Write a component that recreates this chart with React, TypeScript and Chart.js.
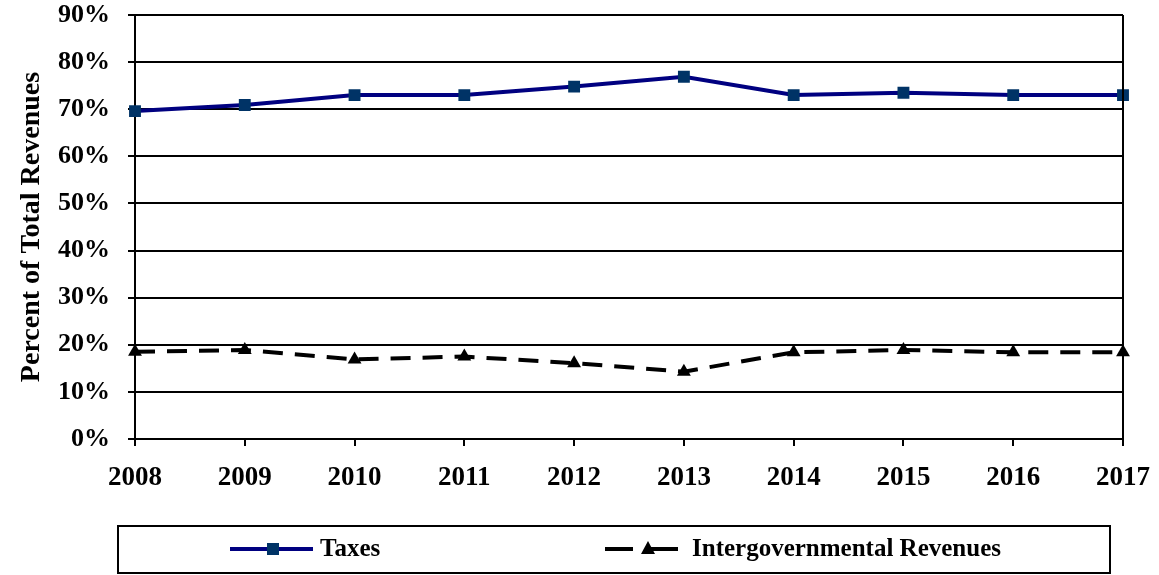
import React, { useEffect, useRef } from "react";
import { Chart, registerables } from "chart.js";

Chart.register(...registerables);

const years = ["2008", "2009", "2010", "2011", "2012", "2013", "2014", "2015", "2016", "2017"];
const taxes = [69.6, 70.9, 73.0, 73.0, 74.8, 76.9, 73.0, 73.5, 73.0, 73.0];
const intergov = [18.5, 18.9, 16.9, 17.5, 16.1, 14.3, 18.4, 18.9, 18.4, 18.4];
const seriesNames = ["Taxes", "Intergovernmental Revenues"];
const yTickValues = [0, 10, 20, 30, 40, 50, 60, 70, 80, 90];
const yTitle = "Percent of Total Revenues";

const FONT = "'Liberation Serif', 'Times New Roman', serif";

const framePlugin = {
  id: "framePlugin",
  afterDraw(chart: any) {
    const { ctx, chartArea } = chart;
    ctx.save();
    // right border
    ctx.strokeStyle = "#000";
    ctx.lineWidth = 2;
    ctx.beginPath();
    ctx.moveTo(chartArea.right, chartArea.top);
    ctx.lineTo(chartArea.right, chartArea.bottom);
    ctx.stroke();

    // legend box
    ctx.lineWidth = 2;
    ctx.strokeRect(118, 526, 992, 47);
    const ly = 549;
    const ds = chart.data.datasets;

    // Taxes item
    ctx.strokeStyle = ds[0].borderColor;
    ctx.lineWidth = 4;
    ctx.setLineDash([]);
    ctx.beginPath();
    ctx.moveTo(230, ly);
    ctx.lineTo(313, ly);
    ctx.stroke();
    ctx.fillStyle = ds[0].pointBackgroundColor;
    ctx.fillRect(267, ly - 6, 12, 12);

    // Intergov item
    ctx.strokeStyle = ds[1].borderColor;
    ctx.beginPath();
    ctx.moveTo(605, ly);
    ctx.lineTo(633, ly);
    ctx.moveTo(648, ly);
    ctx.lineTo(678, ly);
    ctx.stroke();
    ctx.fillStyle = ds[1].pointBackgroundColor;
    ctx.beginPath();
    ctx.moveTo(648, ly - 8);
    ctx.lineTo(655, ly + 5);
    ctx.lineTo(641, ly + 5);
    ctx.closePath();
    ctx.fill();

    ctx.fillStyle = "#000";
    ctx.font = `bold 25px ${FONT}`;
    ctx.textBaseline = "middle";
    ctx.textAlign = "left";
    ctx.fillText(ds[0].label, 320, ly + 1);
    ctx.fillText(ds[1].label, 692, ly + 1);
    ctx.restore();
  },
};

export default function App() {
  const ref = useRef<HTMLCanvasElement | null>(null);
  useEffect(() => {
    document.body.style.margin = "0";
    if (!ref.current) return;
    const chart = new Chart(ref.current, {
      type: "line",
      data: {
        labels: years,
        datasets: [
          {
            label: seriesNames[0],
            data: taxes,
            borderColor: "#000080",
            borderWidth: 4,
            pointStyle: "rect",
            pointRadius: 8.4,
            pointBackgroundColor: "#003366",
            pointBorderColor: "#003366",
            pointBorderWidth: 0,
            tension: 0,
          },
          {
            label: seriesNames[1],
            data: intergov,
            borderColor: "#000000",
            borderWidth: 4,
            borderDash: [20, 12],
            pointStyle: "triangle",
            pointRadius: 8,
            pointBackgroundColor: "#000000",
            pointBorderColor: "#000000",
            pointBorderWidth: 0,
            tension: 0,
          },
        ],
      },
      options: {
        animation: false,
        responsive: false,
        layout: { padding: { top: 15, right: 36, left: 0, bottom: 0 } },
        plugins: {
          legend: { display: false },
          tooltip: { enabled: false },
        },
        scales: {
          x: {
            type: "category",
            offset: false,
            afterFit(scale: any) {
              scale.height = 136;
              scale.paddingLeft = 0;
              scale.paddingRight = 0;
            },
            grid: {
              drawOnChartArea: false,
              drawTicks: true,
              tickLength: 7,
              color: "#000",
              lineWidth: 2,
            },
            border: { display: true, color: "#000", width: 2 },
            ticks: {
              color: "#000",
              padding: 16,
              maxRotation: 0,
              autoSkip: false,
              font: { family: FONT, size: 27, weight: "bold" },
            },
          },
          y: {
            min: 0,
            max: 90,
            afterFit(scale: any) {
              scale.width = 135;
              scale.paddingTop = 0;
              scale.paddingBottom = 0;
            },
            afterBuildTicks(scale: any) {
              scale.ticks = yTickValues.map((v) => ({ value: v }));
            },
            grid: {
              color: "#000",
              lineWidth: 2,
              tickLength: 7,
              drawTicks: true,
            },
            border: { display: true, color: "#000", width: 2 },
            ticks: {
              color: "#000",
              padding: 18,
              callback: (v: any) => `${v}%`,
              font: { family: FONT, size: 26, weight: "bold" },
            },
            title: {
              display: true,
              text: yTitle,
              color: "#000",
              padding: { top: 15, bottom: 0 },
              font: { family: FONT, size: 28, weight: "bold" },
            },
          },
        },
      },
      plugins: [framePlugin],
    });
    return () => chart.destroy();
  }, []);
  return (
    <div style={{ position: "absolute", left: 0, top: 0, width: 1159, height: 575 }}>
      <canvas ref={ref} width={1159} height={575} style={{ width: 1159, height: 575 }} />
    </div>
  );
}
